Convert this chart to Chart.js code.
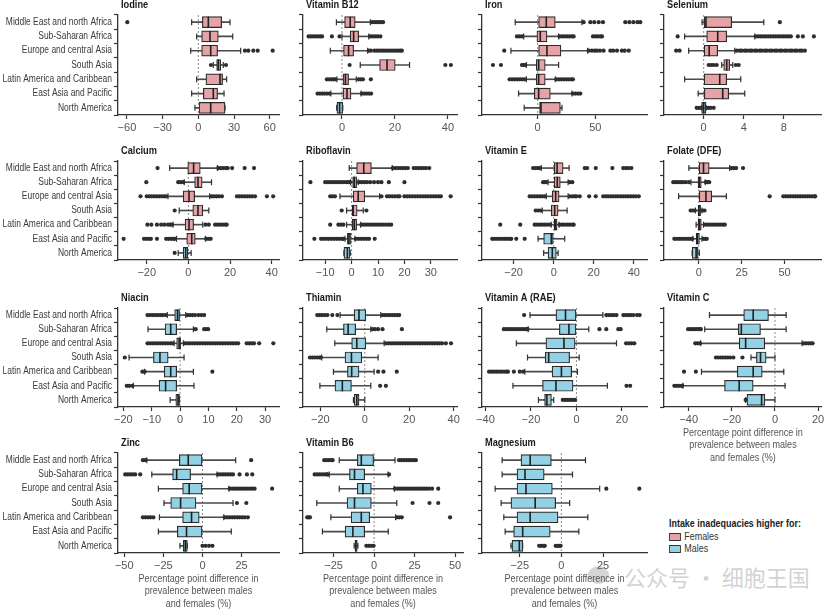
<!DOCTYPE html>
<html>
<head>
<meta charset="utf-8">
<script src="https://cdn.jsdelivr.net/npm/chart.js@4.4.1/dist/chart.umd.min.js"></script>
<style>
  body { margin: 0; background: #fff; width: 829px; height: 610px; position: relative; overflow: hidden; }
  canvas { position: absolute; }
  #legend { position: absolute; left: 669px; top: 517px; font: 10.5px "Liberation Sans", sans-serif; color: #333; line-height: 12px;
      transform: scaleX(0.85); transform-origin: 0 0; white-space: nowrap; }
  #legend .head { font-weight: bold; color: #222; margin-bottom: 1px; }
  #legend .sw { display: inline-block; width: 12px; height: 6px; border: 1px solid #333; margin-right: 4px; vertical-align: -1px; }
  #wm { position: absolute; left: 624px; top: 560px; font: 22px "Noto Sans CJK SC", sans-serif; color: rgba(165,165,165,0.5); white-space: nowrap; }
  #wmIcon { position: absolute; left: 588px; top: 566px; width: 21px; height: 18px; border-radius: 50%; background: rgba(165,165,165,0.45); }
</style>
</head>
<body>
<div id="legend"></div>
<div id="wmIcon"></div>
<div id="wm">公众号 · 细胞王国</div>
<script>
const regions = ['Middle East and north Africa', 'Sub-Saharan Africa', 'Europe and central Asia', 'South Asia',
    'Latin America and Caribbean', 'East Asia and Pacific', 'North America'];
const sexLabels = ['Females', 'Males'];

// box = [lower whisker, q1, median, q3, upper whisker], one row per region
const iodineBox = [[-5.6, 3.4, 8.4, 19.6, 26.6], [-1.4, 2.8, 9.8, 16.8, 28.9], [-6.4, 2.8, 10.4, 16.2, 35.6],
    [12.6, 15.4, 16.8, 18.8, 21], [-1.4, 6.4, 18.2, 20.4, 23.8], [-5.6, 4.2, 12.6, 16.2, 21.6], [-2.8, 0.6, 10.4, 22.4, 22.4]];
const iodineSex = ['F', 'F', 'F', 'F', 'F', 'F', 'F'];
const iodineOut = [[-59.7], [], [39.2, 42, 46.2, 49.9, 62.5], [10.6, 23.2], [], [], []];
const iodineTicks = [-60, -30, 0, 30, 60];
const iodineRange = [-67.5, 67.8];

const b12Box = [[-2.1, 1, 3.1, 5, 10.7], [0, 3.1, 4.4, 6.3, 10.1], [-4.4, 0.6, 2.5, 4.4, 9.7], [6.9, 14.2, 17, 20.1, 25.5],
    [-1.9, 0.4, 1.3, 2.5, 5.4], [-4.2, 0.4, 1.9, 3.4, 7.2], [-2, -1.9, -0.9, 0.25, 0.3]];
const b12Sex = ['F', 'F', 'F', 'F', 'F', 'F', 'M'];
const b12Out = [[11.3, 12.2, 13.1, 14, 14.8, 15.5],
    [-12.6, -11.7, -10.8, -9.9, -9, -8.2, -7.5, -3.8, -0.9, 10.7, 11.6, 12.5, 13.4, 14.5],
    [10.1, 10.9, 12.2, 13.1, 14, 14.9, 15.8, 16.7, 17.6, 18.5, 19.4, 20.3, 21.2, 22, 22.6],
    [2.9, 39, 41.1], [-5.7, -4.8, -3.9, -3.1, -2.5, 6.3, 7.1, 7.9, 10.9],
    [-9.2, -8.3, -7.4, -6.5, -5.6, -4.7, 7.5, 8.4, 9.3, 10.2, 11], []];
const b12Ticks = [0, 20, 40];
const b12Range = [-14.7, 43.4];

const ironBox = [[-19.4, 0.9, 7.5, 15.3, 38.4], [-12.1, -0.6, 2.3, 8.1, 18.2], [-23.1, 0.9, 8.1, 20.2, 43.4],
    [-9.8, -1.2, 0.9, 6.6, 18.2], [-9.8, -1.2, 0.9, 6.6, 15.3], [-16.5, -2.9, 0.9, 11, 29.8], [-11.6, 1.7, 2.9, 19.7, 21.1]];
const ironSex = ['F', 'F', 'F', 'F', 'F', 'F', 'F'];
const ironOut = [[39.9, 45.7, 49.1, 52.9, 56.6, 76, 79.5, 83, 86.5, 89],
    [-17.9, -15.7, -13.5, 19.1, 21.3, 23.5, 25.7, 27.9, 30, 31.2, 48, 50.2, 52.4, 54.6, 55.8],
    [-28.9, 44.2, 47, 49.5, 51.4, 54, 57.2, 63, 65.5, 68.8, 73, 75.5, 79],
    [-38.7, -31.8, -13.6, -12, -10.7],
    [-24.3, -22.1, -19.9, -17.7, -15.5, -13.3, -11.1, 16.2, 18.4, 20.6, 22.8, 25, 27.2, 29.4, 30.6],
    [30.6, 32.8, 35, 37], []];
const ironTicks = [0, 50];
const ironRange = [-48.2, 94.8];

const seleniumBox = [[-0.16, 0, 0.23, 2.8, 6], [-1.9, 0.3, 1.4, 2.3, 5.1], [-1.5, 0, 0.55, 1.4, 3.1], [1.8, 2, 2.3, 2.6, 2.9],
    [-1.9, 0, 1.6, 2.3, 3.7], [-0.55, 0.06, 1.9, 2.5, 4.1], [-0.2, -0.2, 0, 0.23, 0.23]];
const seleniumSex = ['F', 'F', 'F', 'F', 'F', 'F', 'M'];
const seleniumOut = [[7.6],
    [-2.6, 5.2, 5.45, 5.7, 5.95, 6.2, 6.45, 6.7, 6.95, 7.2, 7.45, 7.7, 7.95, 8.2, 8.45, 8.7, 9.4, 9.9, 11],
    [-2.75, -2.4, 3.3, 3.6, 3.8, 4.1, 4.3, 4.6, 4.8, 5.1, 5.3, 5.6, 5.8, 6.1, 6.3, 6.6, 6.8, 7.1, 7.3, 7.6, 7.8,
        8.1, 8.3, 8.6, 8.8, 9.1, 9.3, 9.6, 9.8, 10.1],
    [0.5, 0.75, 1, 1.3, 3.2, 3.5], [], [], [-0.7, -0.5, -0.3, 0.3, 0.5, 0.7, 1]];
const seleniumTicks = [0, 4, 8];
const seleniumRange = [-3.96, 11.8];

const calciumBox = [[-9, -0.3, 2.5, 5.7, 13.9], [-2, 3, 4.6, 6.6, 11.1], [-9.8, -2.5, 0.3, 3, 10.2], [-4.4, 2.1, 4.6, 6.9, 9.8],
    [-7.4, -1.6, 0.3, 2.5, 6.9], [-5.7, -0.8, 1.6, 3.3, 8.2], [-4.9, -2.5, -1.3, 0, 1.3]];
const calciumSex = ['F', 'F', 'F', 'F', 'F', 'F', 'M'];
const calciumOut = [[-14.8, 14.4, 15.6, 16.8, 18, 18.9, 21, 27, 31.5],
    [-20.2, -4.9, -3.7, -2.5],
    [-23, -20, -18.8, -17.6, -16.4, -15.2, -14, -12.8, -11.6, -10.7, 11.1, 12.3, 13.5, 14.7, 16.1,
        23.3, 24.5, 25.7, 27, 28.2, 29.4, 30.6, 32, 37.7, 40.7],
    [-6.6],
    [-19.7, -17.8, -15.1, -13.1, -11.5, -9.8, -8.7, -7.9, 8.2, 9.8, 12.8, 14, 15.2, 16.4, 17.6, 18.4],
    [-31.1, -21.3, -20.1, -18.9, -18, -15.1, -10.7, -9.5, -8.3, -7.1, -6.6, 8.5, 9.6, 10.7],
    [-6.6]];
const calciumTicks = [-20, 0, 20, 40];
const calciumRange = [-33.8, 43.5];

const riboflavinBox = [[-0.9, 1.9, 4.6, 7.5, 15.4], [-0.4, 0.4, 1, 1.9, 2.5], [-4.4, 0.6, 2.5, 5, 10.6], [-1.9, 0, 0.6, 2.1, 4.4],
    [-1.9, 0.25, 1, 1.9, 3.4], [-2.5, -1.6, -1, 0, 1.25], [-2.9, -2.9, -1.6, -0.6, -0.5]];
const riboflavinSex = ['F', 'F', 'F', 'F', 'F', 'M', 'M'];
const riboflavinOut = [[15.6, 16.5, 17.5, 18.4, 19.4, 20.3, 21.3, 23.5, 24.4, 25.4, 26.3, 27.3, 28.2, 29.4],
    [-15.6, -10, -9, -8, -7, -6, -5, -4, -3, -2, -1.2, -0.6, 2.8, 3.8, 4.8, 5.8, 7, 8.5, 10, 11.3, 14.1, 20],
    [-8.1, -7.2, -6.3, 11.3, 13.4, 14.4, 15.4, 16.4, 17.4, 18.1, 20, 21, 22, 23, 24, 25, 26, 27, 28, 29, 30, 31,
        32, 33, 33.8, 37.5],
    [-3.75, 5.6],
    [-8.1, -5, -4, -3.1, 3.75, 4.7, 5.7, 6.7, 7.7, 8.7, 9.7, 10.7, 11.7, 12.9, 14, 15],
    [-14.1, -11.6, -10.6, -9.6, -8.6, -7.6, -6.6, -5.6, -4.6, -3.6, -3.1, 1.6, 2.6, 3.6, 4.6, 5.6, 6.6, 8.75],
    []];
const riboflavinTicks = [-10, 0, 10, 20, 30];
const riboflavinRange = [-18.4, 39.9];

const vitEBox = [[-6.2, 0, 1.7, 4.7, 7.7], [-2.8, 0, 1.8, 3.3, 7.2], [-3.7, -0.7, 1, 2.7, 7.2], [-5.7, -1.2, 0.5, 2.2, 6.7],
    [-1.2, 0, 0.8, 1.7, 2.7], [-7.8, -5, -1.2, 0, 5.5], [-5, -2.8, -0.7, 1.3, 2.2]];
const vitESex = ['F', 'F', 'F', 'F', 'F', 'M', 'M'];
const vitEOut = [[-10.3, -9, -7.8, -7, 15.5, 16.7, 21, 29.3, 34.7, 36, 37.3, 38.8],
    [-5.3, -4.5, -3.7, 8, 9.3],
    [-12, -10.8, -9.5, -8.3, -7, -5.8, -4.5, 8, 9.3, 10.5, 11.3, 13, 17.7, 21, 24.7, 26, 27.2, 28.5, 29.7, 31,
        32.2, 33.5, 34.7, 36, 37.2, 38.5, 39.7, 41, 42.5],
    [-9, -7.8, -6.6],
    [-26.7, -16.7, -9.5, -8.3, -7, -5.8, -4.5, -3.3, -2, 3, 4.3, 5.5, 6.8, 8, 9.3, 10],
    [-30.7, -29.5, -28.2, -27, -25.7, -24.5, -23.2, -22, -21.2, -18.7, -14.5],
    []];
const vitETicks = [-20, 0, 20, 40];
const vitERange = [-35.8, 46.6];

const folateBox = [[-5.7, 0, 2.8, 6.1, 18], [-4.5, -0.4, 0.4, 1.5, 3.8], [-11.7, 0, 4.2, 7.6, 16.1], [-1.9, -0.4, 0.2, 1.1, 1.9],
    [-1.5, -0.4, 0.4, 1.5, 2.8], [-3.4, -1.5, -0.8, 0.4, 1.9], [-3.8, -3.8, -1.5, -0.4, 0.4]];
const folateSex = ['F', 'F', 'F', 'F', 'F', 'M', 'M'];
const folateOut = [[19, 20.4, 21.8, 25.8],
    [-14.8, -13.4, -12, -10.6, -9.2, -7.6, -5.7, 4.2, 5.2, 6.1],
    [41.3, 49.2, 50.6, 52, 53.4, 54.8, 56.2, 57.6, 59, 60.4, 61.8, 63.2, 64.6, 66, 67.4, 67.8],
    [-4.7, -3.5, -2.3, 2.3, 3.4],
    [3.8, 5.2, 6.6, 8, 9.5, 11, 12.5, 14, 15.2],
    [-14.2, -12.8, -11.4, -10, -8.6, -7.2, -5.8, -4.4, -3.8, 2.8, 3.8, 4.7],
    []];
const folateTicks = [0, 25, 50];
const folateRange = [-20.2, 71.7];

const niacinBox = [[-4.5, -1.9, -0.9, 0, 2], [-11.3, -5.3, -3.3, -1.2, 4.7], [-2.1, -1.2, -0.35, 0.2, 1.2], [-18, -9.4, -7.1, -4.2, 1.4],
    [-12.5, -5.6, -3.3, -1.2, 4.7], [-16.5, -7.4, -5.1, -1.2, 4.9], [-3.5, -1.5, -0.7, -0.2, -0.2]];
const niacinSex = ['M', 'M', 'M', 'M', 'M', 'M', 'M'];
const niacinOut = [[-11.5, -10.6, -9.7, -8.8, -7.9, -7, -6.1, -5.1, 2.6, 3.5, 4.4, 5.3, 6.5, 7.5, 8.5],
    [5.5, 8.5, 9.2, 9.9],
    [-11.5, -10.6, -9.7, -8.8, -7.9, -7, -6.1, -5.2, -4.3, -3.4, -2.7, 1.6, 2.5, 3.4, 4.3, 5.2, 6.1, 7, 7.9, 8.8,
        9.7, 10.6, 11.5, 12.4, 13.3, 14.2, 15.1, 16, 16.9, 17.8, 18.7, 19.6, 20.5, 23.5, 24.4, 25.3, 26.1, 27.9, 32.9],
    [-19.5],
    [-13.3, -12.5, 11.4],
    [-18.8, -17.9, -16.8],
    []];
const niacinTicks = [-20, -10, 0, 10, 20, 30];
const niacinRange = [-21.9, 34.9];

const thiaminBox = [[-11.1, -4.8, -2.6, 0.45, 7.2], [-17.1, -9.6, -7.5, -4.1, 2.7], [-13.5, -5.9, -3.6, 0.45, 8.7],
    [-19.4, -8.9, -6, -1.35, 6], [-14.1, -7.8, -5.9, -2.6, 4.2], [-20.2, -13.4, -10.1, -6, 2.7], [-5.1, -4.8, -3.6, -2.6, 0]];
const thiaminSex = ['M', 'M', 'M', 'M', 'M', 'M', 'M'];
const thiaminOut = [[-21.4, -20.3, -19.2, -18, -16.8, -14.6, -12.3, 8, 9.1, 10.2, 11.3, 12.4, 13.5, 14.6, 15.5],
    [3.5, 4.6, 6, 8, 16.7],
    [9.5, 10.6, 11.7, 12.8, 13.9, 15, 16.1, 17.2, 18.3, 19.4, 20.5, 21.6, 22.7, 23.8, 24.9, 26, 27.1, 28.2, 29.3,
        30.4, 31.5, 32.6, 33.7, 34.8, 36.5, 38.8],
    [-24.7, -23.6, -22.5, -21.4, -20.3, -19.8],
    [6, 8.4, 14.4],
    [6.9, 9.5],
    []];
const thiaminTicks = [-20, 0, 20, 40];
const thiaminRange = [-27.8, 41.5];

const vitABox = [[-20.4, -9, -4.8, 0, 11.6], [-21.2, -7.5, -3.3, 0, 5.4], [-26.4, -13.4, -5.5, -0.6, 17.6], [-21.5, -13.7, -12.2, -3, 1.2],
    [-22.7, -10.7, -6.6, -2.1, 0.45], [-27.9, -14.9, -9, -1.5, 13.6], [-16.7, -14, -13, -11, -10]];
const vitASex = ['M', 'M', 'M', 'M', 'M', 'M', 'M'];
const vitAOut = [[-23, 13.1, 14.2, 15.3, 16.4, 17.6, 20.6, 21.7, 22.8, 23.9, 25, 26.6, 27.8],
    [-31.9, -30.8, -29.7, -28.6, -27.5, -26.4, -25.3, -24.2, -23.1, -22, -21.5, 10.1, 13.1, 18.4, 19.4],
    [21.8, 23, 24.2, 25.4],
    [],
    [-38.4, -37.3, -36.2, -35.1, -34, -32.9, -31.8, -30.7, -30.1, -27.5, -24.9, -23.4],
    [22, 23.6],
    [-6, -4.9, -3.8, -2.7, -1.6, -0.6]];
const vitATicks = [-40, -20, 0, 20];
const vitARange = [-41.5, 31];

const vitCBox = [[-30.4, -14.5, -10.1, -3, 5.2], [-32.6, -17, -15.6, -6.7, 5.2], [-34.5, -16.6, -13.6, -4.7, 12.6],
    [-11.1, -8.6, -6.7, -4.1, 0], [-34.1, -17.5, -10.1, -5.9, 4.1], [-42.7, -23.4, -16.6, -10.1, 4.7], [-13.6, -13, -6.2, -4.7, 0]];
const vitCSex = ['M', 'M', 'M', 'M', 'M', 'M', 'M'];
const vitCOut = [[],
    [-40.3, -39.2, -38.1, -37, -35.9, -34.8, -34.4],
    [-37, -35.9, -34.8, 13.3, 14.4, 15.5, 16.6, 17.5],
    [-27.4, -26.3, -25.2, -24.1, -23, -21.9, -20.8, -19.3, -15.1],
    [-42.2, -36.7],
    [-46.7, -45.6, -44.5, -43.4, -43],
    [-13.6]];
const vitCTicks = [-40, -20, 0, 20];
const vitCRange = [-51.5, 21.8];

const zincBox = [[-35.6, -14.8, -9.1, 0, 21.2], [-32.4, -19.1, -16.5, -7.6, 9.3], [-28.2, -12.7, -8.5, 0, 16.9],
    [-24.6, -20.3, -14, -4.2, 19.5], [-27.5, -12.7, -7, -2.1, 13.6], [-28.2, -16.1, -10.2, 0, 18.4], [-14.4, -12.3, -11, -9.7, -9.7]];
const zincSex = ['M', 'M', 'M', 'M', 'M', 'M', 'M'];
const zincOut = [[-38.1, -36.5, 31.1],
    [-49.4, -47.8, -46.2, -44.6, -43, -39.8, 10, 11.6, 13.2, 14.8, 16.4, 18, 19.5, 23.7, 28.4, 31.8],
    [17.4, 19, 20.6, 22.2, 23.8, 25.4, 27, 28.6, 30.2, 31.8, 33.3, 44.5],
    [22, 28],
    [-38.1, -36.5, -34.9, -33.3, -31.4, 14.2, 15.8, 17.4, 19, 20.6, 22.2, 23.8, 25.4, 27, 29],
    [],
    [0, 2, 4.2, 6.4]];
const zincTicks = [-50, -25, 0, 25];
const zincRange = [-54, 48.9];

const b6Box = [[-21.5, -10.4, -7.9, 0, 12.9], [-27.7, -15.2, -12.1, -5.8, 8.75], [-21.5, -10.4, -6.9, -1.7, 12.5],
    [-35.4, -16.7, -12.1, -1.7, 14], [-26.7, -14.2, -7.9, -2.7, 13.3], [-31.9, -17.9, -13.1, -5.8, 8.75], [-12.3, -11.8, -11.2, -10.4, -10]];
const b6Sex = ['M', 'M', 'M', 'M', 'M', 'M', 'M'];
const b6Out = [[-30.8, -29.3, -27.8, -26.3, -25.6, 15.4, 16.9, 18.4, 19.9, 21.4, 22.9, 24.4, 25.8],
    [-36.7, -35.2, -33.7, -32.2, -30.7, -29.2, -28.8, 9.2],
    [12.9, 14.4, 15.9, 17.4, 18.9, 20.4, 21.9, 23.4, 24.9, 26.4, 27.9, 29.4, 30.9, 32.4, 33.9, 35.8, 39.6],
    [23.75, 34.2, 39.6],
    [-41.3, -40.4, -39.6, 14, 15.5, 17.1, 46.9],
    [],
    [-4.8, -3.3, -1.8, -0.3]];
const b6Ticks = [-25, 0, 25, 50];
const b6Range = [-43.9, 54.9];

const magnesiumBox = [[-35.5, -24.2, -18.7, -6, 14.5], [-35.5, -26.6, -21.8, -10.3, 6.7], [-39.7, -26.6, -21.2, -5.4, 23],
    [-36.1, -30.2, -15.7, -3.4, 5], [-34.5, -26.6, -18.7, -2, 15.9], [-33.7, -28.6, -23.2, -6.7, 10.5], [-30.2, -29.6, -25.2, -23.2, -23.2]];
const magnesiumSex = ['M', 'M', 'M', 'M', 'M', 'M', 'M'];
const magnesiumOut = [[], [], [27, 46.8], [], [], [], [-13.3, -12, -10.7, -9.9, -3.4, -2.2, -1.2, -0.4]];
const magnesiumTicks = [-25, 0, 25];
const magnesiumRange = [-47.6, 51.4];

const xTitleLines = ['Percentage point difference in', 'prevalence between males', 'and females (%)'];

const panels = [
    {title: 'Iodine', box: iodineBox, sex: iodineSex, out: iodineOut, ticks: iodineTicks, range: iodineRange, row: 0, col: 0},
    {title: 'Vitamin B12', box: b12Box, sex: b12Sex, out: b12Out, ticks: b12Ticks, range: b12Range, row: 0, col: 1},
    {title: 'Iron', box: ironBox, sex: ironSex, out: ironOut, ticks: ironTicks, range: ironRange, row: 0, col: 2},
    {title: 'Selenium', box: seleniumBox, sex: seleniumSex, out: seleniumOut, ticks: seleniumTicks, range: seleniumRange, row: 0, col: 3},
    {title: 'Calcium', box: calciumBox, sex: calciumSex, out: calciumOut, ticks: calciumTicks, range: calciumRange, row: 1, col: 0},
    {title: 'Riboflavin', box: riboflavinBox, sex: riboflavinSex, out: riboflavinOut, ticks: riboflavinTicks, range: riboflavinRange, row: 1, col: 1},
    {title: 'Vitamin E', box: vitEBox, sex: vitESex, out: vitEOut, ticks: vitETicks, range: vitERange, row: 1, col: 2},
    {title: 'Folate (DFE)', box: folateBox, sex: folateSex, out: folateOut, ticks: folateTicks, range: folateRange, row: 1, col: 3},
    {title: 'Niacin', box: niacinBox, sex: niacinSex, out: niacinOut, ticks: niacinTicks, range: niacinRange, row: 2, col: 0},
    {title: 'Thiamin', box: thiaminBox, sex: thiaminSex, out: thiaminOut, ticks: thiaminTicks, range: thiaminRange, row: 2, col: 1},
    {title: 'Vitamin A (RAE)', box: vitABox, sex: vitASex, out: vitAOut, ticks: vitATicks, range: vitARange, row: 2, col: 2},
    {title: 'Vitamin C', box: vitCBox, sex: vitCSex, out: vitCOut, ticks: vitCTicks, range: vitCRange, row: 2, col: 3, xTitle: true},
    {title: 'Zinc', box: zincBox, sex: zincSex, out: zincOut, ticks: zincTicks, range: zincRange, row: 3, col: 0, xTitle: true},
    {title: 'Vitamin B6', box: b6Box, sex: b6Sex, out: b6Out, ticks: b6Ticks, range: b6Range, row: 3, col: 1, xTitle: true, right: 463},
    {title: 'Magnesium', box: magnesiumBox, sex: magnesiumSex, out: magnesiumOut, ticks: magnesiumTicks, range: magnesiumRange, row: 3, col: 2, xTitle: true}
];

// layout (pixels)
const colLeft = [118, 303, 482, 664];
const colRight = [279, 457, 647, 827];
const rowTop = [15, 161, 308, 453];
const rowBottom = [115, 260, 407, 553];

const FONT = '"Liberation Sans", Arial, sans-serif';
const PINK = '#e6a3a6';
const BLUE = '#94d1e4';
const sexColor = s => s === 'F' ? PINK : BLUE;

Chart.defaults.font.family = FONT;

// the source figure uses a condensed face, so text is squeezed horizontally
function narrowText(ctx, text, x, y, align, sx) {
    ctx.save();
    ctx.translate(x, y);
    ctx.scale(sx, 1);
    ctx.textAlign = align;
    ctx.textBaseline = 'middle';
    ctx.fillText(text, 0, 0);
    ctx.restore();
}

const zeroLine = {
    id: 'zeroLine',
    beforeDatasetsDraw(chart) {
        const {ctx, chartArea, scales: {x}} = chart;
        const px = x.getPixelForValue(0);
        ctx.save();
        ctx.strokeStyle = '#8c8c8c';
        ctx.lineWidth = 1;
        ctx.setLineDash([2, 2]);
        ctx.beginPath();
        ctx.moveTo(px, chartArea.top);
        ctx.lineTo(px, chartArea.bottom);
        ctx.stroke();
        ctx.restore();
    }
};

const panelText = {
    id: 'panelText',
    afterDraw(chart, args, opts) {
        const {ctx, chartArea, scales: {y}} = chart;
        ctx.save();
        ctx.font = 'bold 10.5px ' + FONT;
        ctx.fillStyle = '#1a1a1a';
        narrowText(ctx, opts.title, chartArea.left + 3, chartArea.top - 10, 'left', 0.88);

        if (opts.showLabels) {
            ctx.font = '10px ' + FONT;
            ctx.fillStyle = '#3a3a3a';
            y.getLabels().forEach((lab, i) => {
                narrowText(ctx, lab, chartArea.left - 6, y.getPixelForTick(i), 'right', 0.845);
            });
        }

        if (opts.xTitle) {
            ctx.font = '10.5px ' + FONT;
            ctx.fillStyle = '#555';
            const cx = (chartArea.left + chartArea.right) / 2;
            xTitleLines.forEach((line, i) => {
                narrowText(ctx, line, cx, chartArea.bottom + 26 + i * 12.5, 'center', 0.86);
            });
        }
        ctx.restore();
    }
};

function fmtTick(v) {
    return v < 0 ? '\u2212' + Math.abs(v) : String(v);
}

function drawPanel(p) {
    const left = colLeft[p.col];
    const right = p.right || colRight[p.col];
    const top = rowTop[p.row];
    const bottom = rowBottom[p.row];
    const canvasLeft = p.col === 0 ? 0 : left - 12;
    const canvasTop = Math.max(0, top - 16);
    const xH = p.xTitle ? 57 : 22;
    const padRight = Math.min(8, 829 - right);

    const canvas = document.createElement('canvas');
    canvas.width = right - canvasLeft + padRight;
    canvas.height = bottom - canvasTop + xH;
    canvas.style.left = canvasLeft + 'px';
    canvas.style.top = canvasTop + 'px';
    document.body.appendChild(canvas);

    const yW = left - canvasLeft;

    return new Chart(canvas, {
        type: 'bar',
        data: {
            labels: regions,
            datasets: [
                {
                    // whisker line
                    type: 'bar',
                    data: p.box.map(b => [b[0], b[4]]),
                    backgroundColor: '#4a4a4a',
                    barThickness: 1,
                    grouped: false,
                    order: 5
                },
                {
                    // box q1..q3
                    type: 'bar',
                    data: p.box.map(b => [b[1], b[3]]),
                    backgroundColor: p.sex.map(sexColor),
                    borderColor: '#2b2b2b',
                    borderWidth: 1.2,
                    borderSkipped: false,
                    barThickness: 11,
                    grouped: false,
                    order: 4
                },
                {
                    // whisker caps
                    type: 'scatter',
                    data: p.box.flatMap((b, i) => [{x: b[0], y: regions[i]}, {x: b[4], y: regions[i]}]),
                    pointStyle: 'line',
                    pointRotation: 90,
                    pointRadius: 3,
                    pointBorderColor: '#333',
                    pointBorderWidth: 1.2,
                    order: 3
                },
                {
                    // median
                    type: 'scatter',
                    data: p.box.map((b, i) => ({x: b[2], y: regions[i]})),
                    pointStyle: 'line',
                    pointRotation: 90,
                    pointRadius: 5.5,
                    pointBorderColor: '#1f1f1f',
                    pointBorderWidth: 1.6,
                    order: 2
                },
                {
                    // outliers
                    type: 'scatter',
                    data: p.out.flatMap((arr, i) => arr.map(v => ({x: v, y: regions[i]}))),
                    pointStyle: 'circle',
                    pointRadius: 2.1,
                    pointBackgroundColor: '#2e2e2e',
                    pointBorderWidth: 0,
                    order: 1
                }
            ]
        },
        options: {
            indexAxis: 'y',
            responsive: false,
            animation: false,
            events: [],
            layout: {padding: {top: top - canvasTop, right: padRight, left: 0, bottom: 0}},
            plugins: {
                legend: {display: false},
                tooltip: {enabled: false},
                panelText: {title: p.title, showLabels: p.col === 0, xTitle: !!p.xTitle}
            },
            scales: {
                x: {
                    type: 'linear',
                    min: p.range[0],
                    max: p.range[1],
                    afterBuildTicks: s => { s.ticks = p.ticks.map(v => ({value: v})); },
                    afterFit: s => { s.height = xH; s.paddingLeft = 0; s.paddingRight = 0; },
                    grid: {display: true, drawOnChartArea: false, drawTicks: true, tickLength: 4, tickColor: '#333', tickWidth: 1.2},
                    border: {display: true, color: '#333', width: 1.3},
                    ticks: {color: '#555', font: {size: 11}, padding: 2, maxRotation: 0, autoSkip: false, callback: v => fmtTick(v)}
                },
                y: {
                    type: 'category',
                    offset: true,
                    afterFit: s => { s.width = yW; s.paddingTop = 0; s.paddingBottom = 0; },
                    grid: {display: true, drawOnChartArea: false, drawTicks: true, tickLength: 4, tickColor: '#333', tickWidth: 1.2, offset: true},
                    border: {display: true, color: '#333', width: 1.3},
                    ticks: {display: false}
                }
            }
        },
        plugins: [zeroLine, panelText]
    });
}

panels.forEach(drawPanel);

// legend
const legend = document.getElementById('legend');
legend.innerHTML = '<div class="head">Intake inadequacies higher for:</div>' +
    sexLabels.map((lab, i) => `<div><span class="sw" style="background:${i === 0 ? PINK : BLUE}"></span>${lab}</div>`).join('');
</script>
</body>
</html>
